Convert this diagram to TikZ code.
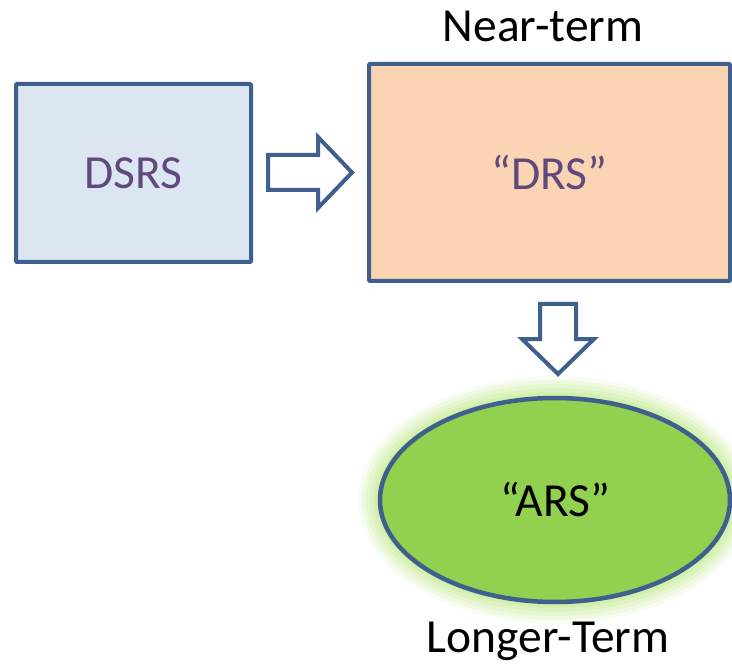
\documentclass[tikz,border=0pt]{standalone}
\usepackage{fontspec}
\setmainfont{Carlito}
\usetikzlibrary{shapes.geometric}
\definecolor{edgeblue}{HTML}{3F5F8E}
\definecolor{dsrsfill}{HTML}{DCE6F2}
\definecolor{drsfill}{HTML}{FBD4B4}
\definecolor{arsfill}{HTML}{92D050}
\definecolor{glowgreen}{HTML}{C4EA92}
\definecolor{labelpurple}{HTML}{604A7B}
\tikzset{
  box/.style={draw=edgeblue, line width=4pt, rounded corners=1pt, inner sep=0pt},
  label text/.style={font=\fontsize{47.5}{52}\selectfont},
  blockarrow/.style={draw=edgeblue, line width=4pt, fill=white, line join=miter},
}
\begin{document}
\begin{tikzpicture}[x=1pt, y=-1pt]
  \useasboundingbox (0,0) rectangle (732,666);
  % soft green halo behind the ellipse
  \foreach \g/\o in {22/0.12, 18/0.17, 14/0.22, 10/0.28, 6/0.35, 3/0.4}{
    \fill[glowgreen, opacity=\o] (555,500) ellipse ({175+\g} and {102+\g});
  }
  % boxes
  \node[box, fill=dsrsfill, minimum width=235pt, minimum height=178pt] (dsrs) at (133.5,173) {};
  \node[label text, text=labelpurple] at (dsrs.center) {DSRS};
  \node[box, fill=drsfill, minimum width=361pt, minimum height=217pt] (drs) at (549.5,172.5) {};
  \node[label text, text=labelpurple] at (drs.center) {“DRS”};
  \node[ellipse, draw=edgeblue, line width=4.5pt, fill=arsfill, minimum width=350pt, minimum height=204pt, inner sep=0pt] (ars) at (555,500) {};
  \node[label text, text=black] at (ars.center) {“ARS”};
  % captions
  \node[label text] (near) at (543,26) {Near-term};
  \node[label text] (longer) at (548,641) {Longer-Term};
  % block arrows
  \draw[blockarrow] (268,155) -- (318,155) -- (318,137) -- (352,172.5) -- (318,208) -- (318,190) -- (268,190) -- cycle;
  \draw[blockarrow] (540,304) -- (576,304) -- (576,339) -- (594,339) -- (558,374) -- (522,339) -- (540,339) -- cycle;
\end{tikzpicture}
\end{document}
